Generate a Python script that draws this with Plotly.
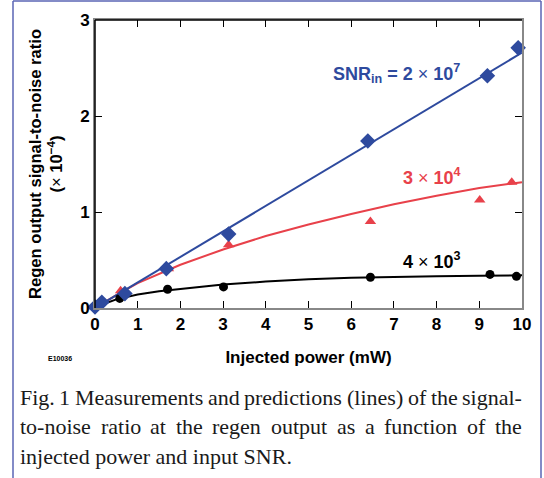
import plotly.graph_objects as go

# Measurements
blue_x = [0.0, 0.16, 0.70, 1.67, 3.13, 6.39, 9.19, 9.91]
blue_y = [0.01, 0.06, 0.15, 0.41, 0.77, 1.74, 2.42, 2.71]
red_x = [0.0, 0.1, 0.60, 1.72, 3.13, 6.45, 9.01, 9.76]
red_y = [0.01, 0.04, 0.18, 0.41, 0.66, 0.90, 1.125, 1.31]
black_x = [0.0, 0.05, 0.10, 0.15, 0.58, 1.70, 3.01, 6.45, 9.25, 9.87]
black_y = [0.02, 0.03, 0.04, 0.05, 0.10, 0.195, 0.22, 0.32, 0.35, 0.33]

# Predictions (lines)
blue_lx = [0, 10]
blue_ly = [0, 2.66]
red_lx = [0, 0.5, 1, 2, 3, 4, 5, 6, 7, 8, 9, 10]
red_ly = [0, 0.135, 0.26, 0.45, 0.61, 0.75, 0.87, 0.98, 1.08, 1.17, 1.25, 1.31]
black_lx = [0, 0.25, 0.5, 1, 1.5, 2, 3, 4, 5, 6, 7, 8, 9, 10]
black_ly = [0, 0.05, 0.09, 0.14, 0.175, 0.20, 0.245, 0.275, 0.30, 0.315, 0.325, 0.33, 0.335, 0.34]

x_ticks = [0, 1, 2, 3, 4, 5, 6, 7, 8, 9, 10]
y_ticks = [0, 1, 2, 3]

caption_lines = [
    "Fig. 1 Measurements and predictions (lines) of the signal-",
    "to-noise ratio at the regen output as a function of the",
    "injected power and input SNR.",
]

BLUE = "#2e4a9e"
RED = "#e8414a"
BLACK = "#000000"

fig = go.Figure()
for lx, ly, c in [(black_lx, black_ly, BLACK), (red_lx, red_ly, RED), (blue_lx, blue_ly, BLUE)]:
    fig.add_trace(go.Scatter(x=lx, y=ly, mode="lines", line=dict(color=c, width=2),
                             cliponaxis=False, showlegend=False, hoverinfo="skip"))
fig.add_trace(go.Scatter(x=black_x, y=black_y, mode="markers",
                         marker=dict(symbol="circle", size=9, color=BLACK),
                         cliponaxis=False, showlegend=False))
fig.add_trace(go.Scatter(x=red_x, y=red_y, mode="markers",
                         marker=dict(symbol="triangle-up", size=10, color=RED),
                         cliponaxis=False, showlegend=False))
fig.add_trace(go.Scatter(x=blue_x, y=blue_y, mode="markers",
                         marker=dict(symbol="diamond", size=12, color=BLUE),
                         cliponaxis=False, showlegend=False))

SANS = "Liberation Sans, Arial"
SERIF = "Liberation Serif, Times New Roman"
tickfont = dict(family=SANS, size=17, color="black", weight="bold")
fig.update_xaxes(range=[0, 10], tickvals=x_ticks, ticktext=[str(v) for v in x_ticks],
                 ticks="inside", ticklen=7, tickcolor="black", tickwidth=1,
                 showline=True, linecolor="#888888", linewidth=2, mirror="ticks",
                 showgrid=False, zeroline=False, tickfont=tickfont,
                 title=dict(text="<b>Injected power (mW)</b>", standoff=18,
                            font=dict(family=SANS, size=17, color="black")))
fig.update_yaxes(range=[0, 3], tickvals=y_ticks, ticktext=[str(v) for v in y_ticks],
                 ticks="inside", ticklen=7, tickcolor="black", tickwidth=1,
                 showline=True, linecolor="#888888", linewidth=2, mirror="ticks",
                 showgrid=False, zeroline=False, tickfont=tickfont,
                 title=dict(text="<b>Regen output signal-to-noise ratio</b><br><b>(</b>×<b> 10<sup>−4</sup>)</b>",
                            standoff=13,
                            font=dict(family=SANS, size=16.6, color="black")))


def px(xp, yp):
    """pixel position -> paper coordinates (plot area 95..522 x 20..308)"""
    return (xp - 95) / 427, (308 - yp) / 288


bx0, by0 = px(13, 1)
bx1, by1 = px(541, 478)
shapes = [
    dict(type="line", xref="paper", yref="paper", x0=0, x1=0, y0=0, y1=1,
         line=dict(color="black", width=1.5), layer="above"),
    dict(type="line", xref="paper", yref="paper", x0=0, x1=1, y0=1, y1=1,
         line=dict(color="black", width=1.5), layer="above"),
    dict(type="line", xref="paper", yref="paper", x0=bx0, x1=bx0, y0=by0, y1=by1,
         line=dict(color="#5a64b4", width=1.5)),
    dict(type="line", xref="paper", yref="paper", x0=bx0, x1=bx1, y0=by0, y1=by0,
         line=dict(color="#5a64b4", width=1.5)),
    dict(type="line", xref="paper", yref="paper", x0=bx1, x1=bx1, y0=by0, y1=by1,
         line=dict(color="#5a64b4", width=1.5)),
]

ann_font = dict(family=SANS, size=18)
ex, ey = px(60, 358)
annotations = [
    dict(x=7.07, y=2.44, xref="x", yref="y", xanchor="center", yanchor="middle", showarrow=False,
         text="<b>SNR<sub>in</sub> = 2 </b>×<b> 10<sup>7</sup></b>", font=dict(color=BLUE, **ann_font)),
    dict(x=7.89, y=1.37, xref="x", yref="y", xanchor="center", yanchor="middle", showarrow=False,
         text="<b>3 </b>×<b> 10<sup>4</sup></b>", font=dict(color=RED, **ann_font)),
    dict(x=7.89, y=0.49, xref="x", yref="y", xanchor="center", yanchor="middle", showarrow=False,
         text="<b>4 </b>×<b> 10<sup>3</sup></b>", font=dict(color=BLACK, **ann_font)),
    dict(x=ex, y=ey, xref="paper", yref="paper", xanchor="center", yanchor="middle",
         showarrow=False, text="<b>E10036</b>",
         font=dict(family=SANS, size=7, color="black")),
]

# Times (Liberation Serif) advance widths per 1000 em, for justified caption layout
W = {' ': 250, '.': 250, '-': 333, '(': 333, ')': 333, '1': 500,
     'F': 556, 'M': 889, 'N': 722, 'R': 667, 'S': 556,
     'a': 444, 'b': 500, 'c': 444, 'd': 500, 'e': 444, 'f': 333, 'g': 500, 'h': 500,
     'i': 278, 'j': 278, 'k': 500, 'l': 278, 'm': 778, 'n': 500, 'o': 500, 'p': 500,
     'q': 500, 'r': 333, 's': 389, 't': 278, 'u': 500, 'v': 500, 'w': 722, 'x': 500,
     'y': 500, 'z': 444}
CAP_SIZE = 22


def wwidth(word):
    return sum(W.get(ch, 500) for ch in word) * CAP_SIZE / 1000


LEFT, RIGHT = 20, 522
cap_font = dict(family=SERIF, size=CAP_SIZE, color="#1a1a1a")
for i, line in enumerate(caption_lines):
    yc = 397 + 29.5 * i
    words = line.split(" ")
    if i < len(caption_lines) - 1:
        total = sum(wwidth(w) for w in words)
        gap = (RIGHT - LEFT - total) / (len(words) - 1)
        xpos = LEFT
        for j, w in enumerate(words):
            last = j == len(words) - 1
            cx, cy = px(RIGHT if last else xpos, yc)
            annotations.append(dict(x=cx, y=cy, xref="paper", yref="paper",
                                    xanchor="right" if last else "left", yanchor="middle",
                                    showarrow=False, text=w, borderpad=0, borderwidth=0,
                                    font=cap_font))
            xpos += wwidth(w) + gap
    else:
        cx, cy = px(LEFT, yc)
        annotations.append(dict(x=cx, y=cy, xref="paper", yref="paper", xanchor="left", yanchor="middle",
                                showarrow=False, text=line, borderpad=0, borderwidth=0,
                                font=cap_font))

fig.update_layout(width=544, height=478, margin=dict(l=95, r=22, t=20, b=170),
                  paper_bgcolor="white", plot_bgcolor="white",
                  shapes=shapes, annotations=annotations)
fig.write_html("out.html", config={"displayModeBar": False},
               post_script="document.body.style.margin='0';")
